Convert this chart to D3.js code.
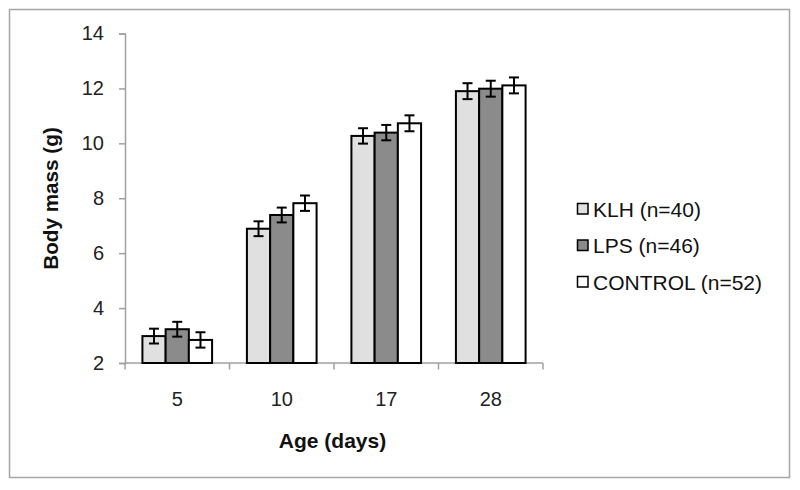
<!DOCTYPE html>
<html>
<head>
<meta charset="utf-8">
<script src="https://cdnjs.cloudflare.com/ajax/libs/d3/7.8.5/d3.min.js"></script>
<style>
  html, body { margin: 0; padding: 0; background: #fff; }
  svg { display: block; font-family: "Liberation Sans", Arial, Helvetica, sans-serif; }
</style>
</head>
<body>
<svg id="chart" width="800" height="490"></svg>
<script>
// ---- data ----
const ages = ["5", "10", "17", "28"];
const seriesNames = ["KLH (n=40)", "LPS (n=46)", "CONTROL (n=52)"];
const seriesColors = ["#e0e0e0", "#8b8b8b", "#ffffff"];
const klhMeans = [2.98, 6.89, 10.27, 11.90];
const lpsMeans = [3.23, 7.39, 10.39, 11.99];
const controlMeans = [2.84, 7.82, 10.73, 12.11];
const klhErr = [0.27, 0.27, 0.28, 0.29];
const lpsErr = [0.27, 0.27, 0.28, 0.29];
const controlErr = [0.28, 0.28, 0.29, 0.29];
const yTicks = [2, 4, 6, 8, 10, 12, 14];

const means = [klhMeans, lpsMeans, controlMeans];
const errs = [klhErr, lpsErr, controlErr];

const svg = d3.select("#chart");

// outer border
svg.append("rect")
  .attr("x", 9.5).attr("y", 9.5).attr("width", 780).attr("height", 468)
  .attr("fill", "#fff").attr("stroke", "#a6a6a6").attr("stroke-width", 1.5);

const plotLeft = 125, plotRight = 543, plotTop = 33.5, plotBottom = 363;

const x0 = d3.scaleBand().domain(ages).range([plotLeft, plotRight]).paddingInner(0).paddingOuter(0);
const x1 = d3.scaleBand().domain(d3.range(seriesNames.length))
  .range([0, x0.bandwidth()]).paddingInner(0).paddingOuter(0.75);
const y = d3.scaleLinear().domain([2, 14]).range([plotBottom, plotTop]);

// y axis
const yAxis = d3.axisLeft(y).tickValues(yTicks).tickSize(6).tickPadding(15).tickFormat(d3.format("d"));
const gy = svg.append("g").attr("transform", `translate(${plotLeft},0)`).call(yAxis);
gy.select(".domain").attr("stroke", "#a0a0a0").attr("stroke-width", 1.5);
gy.selectAll(".tick line").attr("stroke", "#a0a0a0").attr("stroke-width", 1.5);
gy.selectAll(".tick text").attr("font-size", 20).attr("fill", "#222")
  .attr("font-family", "Liberation Sans, Arial, sans-serif");

// x axis
const gx = svg.append("g").attr("transform", `translate(0,${plotBottom})`);
gx.append("line").attr("x1", plotLeft).attr("x2", plotRight).attr("y1", 0).attr("y2", 0)
  .attr("stroke", "#a0a0a0").attr("stroke-width", 1.5);
const bounds = ages.map(a => x0(a)).concat([plotRight]);
gx.selectAll("line.tk").data(bounds).join("line").attr("class", "tk")
  .attr("x1", d => d).attr("x2", d => d).attr("y1", 0).attr("y2", 6.5)
  .attr("stroke", "#a0a0a0").attr("stroke-width", 1.5);
gx.selectAll("text").data(ages).join("text")
  .attr("x", d => x0(d) + x0.bandwidth() / 2).attr("y", 42.5)
  .attr("text-anchor", "middle").attr("font-size", 20).attr("fill", "#222")
  .text(d => d);

// bars
const groups = svg.append("g").selectAll("g").data(ages).join("g")
  .attr("transform", d => `translate(${x0(d)},0)`);
groups.each(function(age, ai) {
  const g = d3.select(this);
  seriesNames.forEach((s, si) => {
    const v = means[si][ai];
    const bx = x1(si);
    const bw = x1.bandwidth();
    g.append("rect")
      .attr("x", bx).attr("y", y(v)).attr("width", bw).attr("height", y(2) - y(v))
      .attr("fill", seriesColors[si]).attr("stroke", "#000").attr("stroke-width", 2);
    const e = errs[si][ai];
    const cx = bx + bw / 2;
    g.append("line").attr("x1", cx).attr("x2", cx).attr("y1", y(v + e)).attr("y2", y(v - e))
      .attr("stroke", "#000").attr("stroke-width", 2);
    [v + e, v - e].forEach(t => {
      g.append("line").attr("x1", cx - 5).attr("x2", cx + 5).attr("y1", y(t)).attr("y2", y(t))
        .attr("stroke", "#000").attr("stroke-width", 2);
    });
  });
});

// axis titles
svg.append("text").attr("x", 332.5).attr("y", 448).attr("text-anchor", "middle")
  .attr("font-size", 21).attr("font-weight", "bold").attr("fill", "#111").text("Age (days)");
svg.append("text").attr("transform", "translate(58,198.5) rotate(-90)").attr("text-anchor", "middle")
  .attr("font-size", 20.7).attr("font-weight", "bold").attr("fill", "#111").text("Body mass (g)");

// legend
const legend = svg.append("g").selectAll("g").data(seriesNames).join("g")
  .attr("transform", (d, i) => `translate(577,${209 + i * 36.5})`);
legend.append("rect").attr("x", 0.5).attr("y", -5.5).attr("width", 10.5).attr("height", 10.5)
  .attr("fill", (d, i) => seriesColors[i]).attr("stroke", "#000").attr("stroke-width", 1.5);
legend.append("text").attr("x", 16).attr("y", 7.5).attr("font-size", 21).attr("fill", "#111")
  .text(d => d);
</script>
</body>
</html>
